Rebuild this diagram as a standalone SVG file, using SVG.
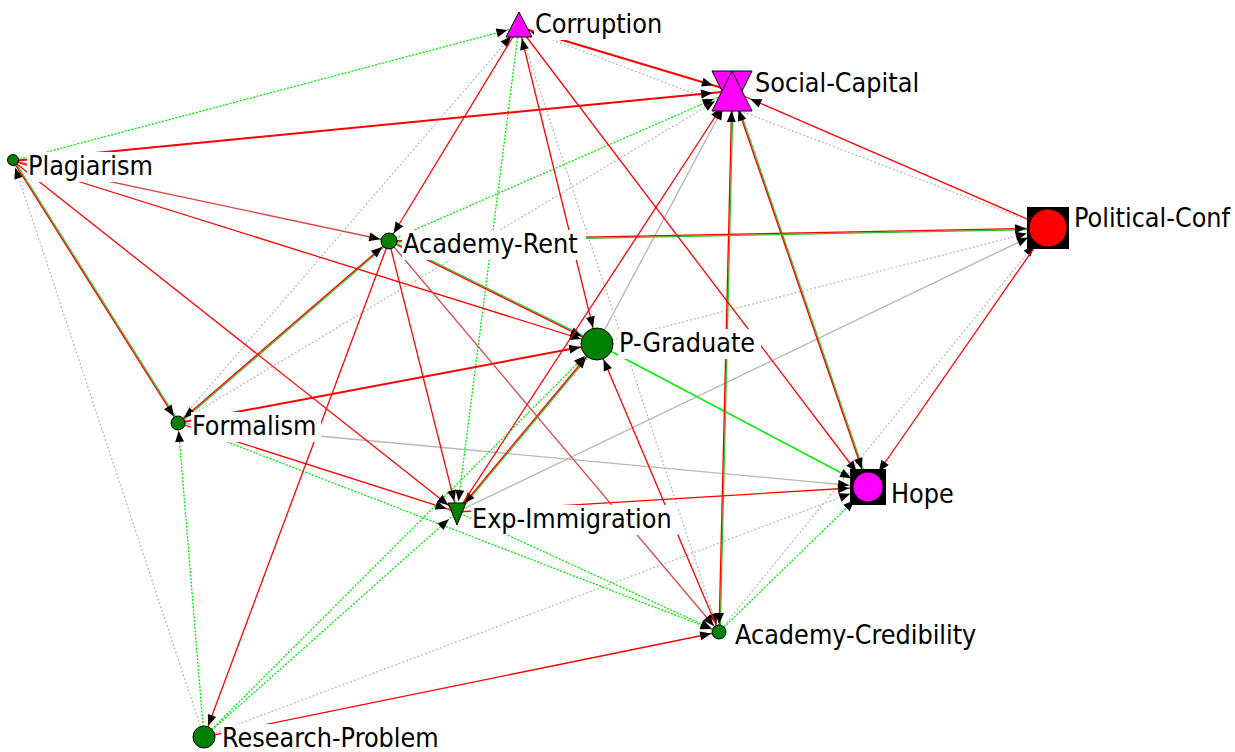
<svg xmlns="http://www.w3.org/2000/svg" width="1235" height="752" viewBox="0 0 1235 752">
<style>
.r{stroke:#ff0000;stroke-width:1.3;fill:none}
.rt{stroke:#ff0000;stroke-width:2;fill:none}
.rd{stroke:#d84848;stroke-width:1.3;fill:none}
.gb{stroke:#22cc22;stroke-width:1.3;fill:none}
.g{stroke:#00ee00;stroke-width:1.3;stroke-dasharray:2 1.5;fill:none}
.gs{stroke:#00ee00;stroke-width:1.6;fill:none}
.y{stroke:#b8b8b8;stroke-width:1.2;stroke-dasharray:2 2;fill:none}
.s{stroke:#b8b8b8;stroke-width:1.4;fill:none}
.lb{fill:#ffffff}
.t{font-family:"DejaVu Sans Condensed","DejaVu Sans",sans-serif;font-stretch:condensed;font-size:26.7px;fill:#000}
.n{fill:#008000;stroke:#000;stroke-width:1}
.mg{fill:#ff00ff;stroke:#000;stroke-width:1}
</style>
<defs>
<marker id="m-C" markerUnits="userSpaceOnUse" orient="auto-start-reverse" refX="12" refY="0" markerWidth="1" markerHeight="1" overflow="visible"><path d="M0,0 L-11,-4.5 L-11,4.5 z" fill="#000"/></marker>
<marker id="m-SC" markerUnits="userSpaceOnUse" orient="auto-start-reverse" refX="20" refY="0" markerWidth="1" markerHeight="1" overflow="visible"><path d="M0,0 L-11,-4.5 L-11,4.5 z" fill="#000"/></marker>
<marker id="m-PC" markerUnits="userSpaceOnUse" orient="auto-start-reverse" refX="22" refY="0" markerWidth="1" markerHeight="1" overflow="visible"><path d="M0,0 L-11,-4.5 L-11,4.5 z" fill="#000"/></marker>
<marker id="m-H" markerUnits="userSpaceOnUse" orient="auto-start-reverse" refX="19" refY="0" markerWidth="1" markerHeight="1" overflow="visible"><path d="M0,0 L-11,-4.5 L-11,4.5 z" fill="#000"/></marker>
<marker id="m-EI" markerUnits="userSpaceOnUse" orient="auto-start-reverse" refX="11" refY="0" markerWidth="1" markerHeight="1" overflow="visible"><path d="M0,0 L-11,-4.5 L-11,4.5 z" fill="#000"/></marker>
<marker id="m-PG" markerUnits="userSpaceOnUse" orient="auto-start-reverse" refX="17" refY="0" markerWidth="1" markerHeight="1" overflow="visible"><path d="M0,0 L-11,-4.5 L-11,4.5 z" fill="#000"/></marker>
<marker id="m-PL" markerUnits="userSpaceOnUse" orient="auto-start-reverse" refX="7" refY="0" markerWidth="1" markerHeight="1" overflow="visible"><path d="M0,0 L-11,-4.5 L-11,4.5 z" fill="#000"/></marker>
<marker id="m-AR" markerUnits="userSpaceOnUse" orient="auto-start-reverse" refX="9" refY="0" markerWidth="1" markerHeight="1" overflow="visible"><path d="M0,0 L-11,-4.5 L-11,4.5 z" fill="#000"/></marker>
<marker id="m-F" markerUnits="userSpaceOnUse" orient="auto-start-reverse" refX="8" refY="0" markerWidth="1" markerHeight="1" overflow="visible"><path d="M0,0 L-11,-4.5 L-11,4.5 z" fill="#000"/></marker>
<marker id="m-AC" markerUnits="userSpaceOnUse" orient="auto-start-reverse" refX="8" refY="0" markerWidth="1" markerHeight="1" overflow="visible"><path d="M0,0 L-11,-4.5 L-11,4.5 z" fill="#000"/></marker>
<marker id="m-RP" markerUnits="userSpaceOnUse" orient="auto-start-reverse" refX="12" refY="0" markerWidth="1" markerHeight="1" overflow="visible"><path d="M0,0 L-11,-4.5 L-11,4.5 z" fill="#000"/></marker>
</defs>
<rect width="1235" height="752" fill="#ffffff"/>
<g id="connectors">
<line class="y" x1="204" y1="737" x2="13" y2="161" marker-end="url(#m-PL)"/>
<line class="y" x1="178" y1="423" x2="519" y2="27" marker-end="url(#m-C)"/>
<line class="y" x1="519" y1="27" x2="719" y2="632" marker-end="url(#m-AC)"/>
<line class="y" x1="1048" y1="228" x2="519" y2="27" marker-end="url(#m-C)"/>
<line class="y" x1="178" y1="423" x2="732" y2="91" marker-end="url(#m-SC)"/>
<line class="s" x1="597" y1="344" x2="732" y2="91" marker-end="url(#m-SC)"/>
<line class="y" x1="597" y1="344" x2="1048" y2="228" marker-end="url(#m-PC)"/>
<line class="s" x1="457" y1="512" x2="1048" y2="228" marker-end="url(#m-PC)"/>
<line class="y" x1="719" y1="632" x2="1048" y2="228" marker-end="url(#m-PC)"/>
<line class="s" x1="178" y1="423" x2="868" y2="487" marker-end="url(#m-H)"/>
<line class="y" x1="204" y1="737" x2="868" y2="487" marker-end="url(#m-H)"/>
<line class="g" x1="13" y1="161" x2="519" y2="27" marker-end="url(#m-C)"/>
<line class="g" x1="519" y1="27" x2="457" y2="512" marker-end="url(#m-EI)"/>
<line class="g" x1="389" y1="241" x2="732" y2="91" marker-end="url(#m-SC)"/>
<line class="g" x1="719" y1="632" x2="868" y2="487" marker-end="url(#m-H)"/>
<line class="g" x1="178" y1="423" x2="719" y2="632" marker-end="url(#m-AC)"/>
<line class="g" x1="457" y1="512" x2="719" y2="632" marker-end="url(#m-AC)"/>
<line class="g" x1="204" y1="737" x2="178" y2="423" marker-end="url(#m-F)"/>
<line class="g" x1="204" y1="737" x2="457" y2="512" marker-end="url(#m-EI)"/>
<line class="g" x1="204" y1="737" x2="597" y2="344" marker-end="url(#m-PG)"/>
<line class="gs" x1="597" y1="344" x2="868" y2="487" marker-end="url(#m-H)"/>
<line class="gb" x1="13" y1="161" x2="178" y2="423" transform="translate(1,-0.6)"/>
<line class="r" x1="13" y1="161" x2="178" y2="423" marker-end="url(#m-F)"/>
<line class="gb" x1="732" y1="91" x2="719" y2="632" transform="translate(1.2,0)"/>
<line class="r" x1="732" y1="91" x2="719" y2="632" marker-start="url(#m-SC)" marker-end="url(#m-AC)"/>
<line class="gb" x1="868" y1="487" x2="732" y2="91" transform="translate(1.1,-0.4)"/>
<line class="r" x1="868" y1="487" x2="732" y2="91" marker-start="url(#m-H)" marker-end="url(#m-SC)"/>
<line class="gb" x1="389" y1="241" x2="1048" y2="228" transform="translate(0,1.2)"/>
<line class="r" x1="389" y1="241" x2="1048" y2="228" marker-end="url(#m-PC)"/>
<line class="gb" x1="389" y1="241" x2="597" y2="344" transform="translate(0.5,-1.1)"/>
<line class="r" x1="389" y1="241" x2="597" y2="344" marker-end="url(#m-PG)"/>
<line class="gb" x1="457" y1="512" x2="597" y2="344" transform="translate(0.9,0.8)"/>
<line class="r" x1="457" y1="512" x2="597" y2="344" marker-start="url(#m-EI)" marker-end="url(#m-PG)"/>
<line class="gb" x1="178" y1="423" x2="389" y2="241" transform="translate(0.8,0.9)"/>
<line class="r" x1="178" y1="423" x2="389" y2="241" marker-start="url(#m-F)" marker-end="url(#m-AR)"/>
<line class="rt" x1="13" y1="161" x2="732" y2="91" marker-end="url(#m-SC)"/>
<line class="rd" x1="13" y1="161" x2="389" y2="241" marker-end="url(#m-AR)"/>
<line class="r" x1="13" y1="161" x2="597" y2="344" marker-end="url(#m-PG)"/>
<line class="r" x1="13" y1="161" x2="457" y2="512" marker-end="url(#m-EI)"/>
<line class="r" x1="519" y1="27" x2="389" y2="241" marker-end="url(#m-AR)"/>
<line class="r" x1="519" y1="27" x2="597" y2="344" marker-start="url(#m-C)" marker-end="url(#m-PG)"/>
<line class="r" x1="519" y1="27" x2="868" y2="487" marker-end="url(#m-H)"/>
<line class="rt" x1="519" y1="27" x2="732" y2="91" marker-end="url(#m-SC)"/>
<line class="r" x1="457" y1="512" x2="732" y2="91" marker-end="url(#m-SC)"/>
<line class="r" x1="1048" y1="228" x2="732" y2="91" marker-end="url(#m-SC)"/>
<line class="r" x1="1048" y1="228" x2="868" y2="487" marker-end="url(#m-H)"/>
<line class="r" x1="457" y1="512" x2="868" y2="487" marker-end="url(#m-H)"/>
<line class="rt" x1="178" y1="423" x2="597" y2="344" marker-end="url(#m-PG)"/>
<line class="r" x1="719" y1="632" x2="597" y2="344" marker-end="url(#m-PG)"/>
<line class="r" x1="389" y1="241" x2="204" y2="737" marker-end="url(#m-RP)"/>
<line class="r" x1="389" y1="241" x2="457" y2="512" marker-end="url(#m-EI)"/>
<line class="rd" x1="389" y1="241" x2="719" y2="632" marker-end="url(#m-AC)"/>
<line class="r" x1="178" y1="423" x2="457" y2="512" marker-end="url(#m-EI)"/>
<line class="r" x1="204" y1="737" x2="719" y2="632" marker-end="url(#m-AC)"/>
</g>
<g id="node-corruption">
<rect class="lb" x="534" y="10" width="132" height="30"/>
<polygon class="mg" points="519,12 506,37 532,37"/>
<text class="t" x="535" y="33">Corruption</text>
</g>
<g id="node-social-capital">
<rect class="lb" x="754" y="69" width="168" height="30"/>
<polygon class="mg" points="712,71 752,71 732,111"/>
<polygon class="mg" points="712,111 752,111 732,71"/>
<text class="t" x="755" y="92">Social-Capital</text>
</g>
<g id="node-political-conf">
<rect class="lb" x="1073" y="204" width="162" height="30"/>
<rect x="1027" y="207" width="42" height="42" fill="#000"/>
<circle cx="1048" cy="228" r="19" fill="#ff0000" stroke="#000" stroke-width="0.8"/>
<text class="t" x="1074" y="227">Political-Conf</text>
</g>
<g id="node-hope">
<rect class="lb" x="890" y="480" width="67" height="30"/>
<rect x="850" y="469" width="36" height="36" fill="#000"/>
<circle cx="868" cy="487" r="15" fill="#ff00ff" stroke="#000" stroke-width="0.8"/>
<text class="t" x="891" y="503">Hope</text>
</g>
<g id="node-exp-immigration">
<rect class="lb" x="471" y="505" width="207" height="30"/>
<polygon class="n" points="448,503 466,503 457,525"/>
<text class="t" x="472" y="528">Exp-Immigration</text>
</g>
<g id="node-p-graduate">
<rect class="lb" x="618" y="329" width="143" height="30"/>
<circle class="n" cx="597" cy="344" r="16"/>
<text class="t" x="619" y="352">P-Graduate</text>
</g>
<g id="node-plagiarism">
<rect class="lb" x="27" y="152" width="129" height="30"/>
<circle class="n" cx="13" cy="160" r="5.5"/>
<text class="t" x="28" y="175">Plagiarism</text>
</g>
<g id="node-academy-rent">
<rect class="lb" x="402" y="230" width="184" height="30"/>
<circle class="n" cx="389" cy="241" r="8"/>
<text class="t" x="403" y="253">Academy-Rent</text>
</g>
<g id="node-formalism">
<rect class="lb" x="191" y="412" width="130" height="30"/>
<circle class="n" cx="178" cy="423" r="7"/>
<text class="t" x="192" y="435">Formalism</text>
</g>
<g id="node-academy-credibility">
<rect class="lb" x="734" y="621" width="248" height="30"/>
<circle class="n" cx="719" cy="632" r="7"/>
<text class="t" x="735" y="644">Academy-Credibility</text>
</g>
<g id="node-research-problem">
<rect class="lb" x="221" y="724" width="226" height="28"/>
<circle class="n" cx="204" cy="737" r="11"/>
<text class="t" x="222" y="747">Research-Problem</text>
</g>
</svg>
